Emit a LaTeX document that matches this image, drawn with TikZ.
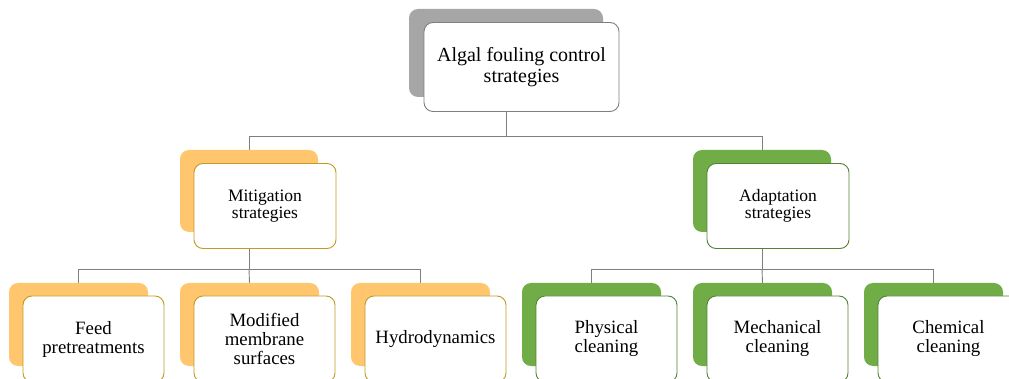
\documentclass[tikz,border=0pt]{standalone}
\usepackage{fontspec}
\setmainfont{Liberation Serif}
\pgfdeclarelayer{bg}
\pgfsetlayers{bg,main}
\definecolor{gback}{HTML}{A6A6A6}
\definecolor{gline}{HTML}{7F7F7F}
\definecolor{oback}{HTML}{FFC66E}
\definecolor{oline}{HTML}{C39A22}
\definecolor{vback}{HTML}{70AD47}
\definecolor{vline}{HTML}{548235}
\definecolor{conn}{HTML}{7F7F7F}
\tikzset{
  backbox/.style={rounded corners=9pt, inner sep=0pt, draw=none},
  frontbox/.style={rounded corners=9pt, inner sep=0pt, fill=white, line width=0.9pt, align=center, text=black},
  topback/.style={backbox, fill=gback, minimum width=194pt, minimum height=88pt},
  topfront/.style={frontbox, draw=gline, minimum width=195pt, minimum height=89pt, font=\fontsize{20}{20.5}\selectfont},
  midback/.style={backbox, minimum width=138pt, minimum height=82pt},
  midfront/.style={frontbox, minimum width=142pt, minimum height=85pt, font=\fontsize{17.5}{17.5}\selectfont},
  lowback/.style={backbox, minimum width=139pt, minimum height=83pt},
  lowfront/.style={frontbox, minimum width=141pt, minimum height=86pt, font=\fontsize{18.8}{19}\selectfont},
  orange/.style={fill=oback},
  ofront/.style={draw=oline},
  green/.style={fill=vback},
  vfront/.style={draw=vline},
  connector/.style={draw=conn, line width=0.9pt}
}
\begin{document}
\begin{tikzpicture}[x=1pt,y=-1pt]
\useasboundingbox (0,0) rectangle (1009,379);
\clip (0,0) rectangle (1009,379);
% top
\node[topback] (b0) at (506,53) {};
\node[topfront] (f0) at (521.5,67) {Algal fouling control\\strategies};
% middle
\node[midback,orange] (bm) at (249,191) {};
\node[midfront,ofront] (fm) at (265,206) {Mitigation\\strategies};
\node[midback,green] (ba) at (762,191) {};
\node[midfront,vfront] (fa) at (778,206) {Adaptation\\strategies};
% bottom
\node[lowback,orange] (b1) at (78.5,324.5) {};
\node[lowfront,ofront] (f1) at (93.5,339) {Feed\\pretreatments};
\node[lowback,orange] (b2) at (249.5,324.5) {};
\node[lowfront,ofront] (f2) at (264.5,339) {Modified\\membrane\\surfaces};
\node[lowback,orange] (b3) at (420.5,324.5) {};
\node[lowfront,ofront] (f3) at (435.5,339) {Hydrodynamics};
\node[lowback,green] (b4) at (591.5,324.5) {};
\node[lowfront,vfront] (f4) at (606.5,339) {Physical\\cleaning};
\node[lowback,green] (b5) at (762.5,324.5) {};
\node[lowfront,vfront] (f5) at (777.5,339) {Mechanical\\cleaning};
\node[lowback,green] (b6) at (933.5,324.5) {};
\node[lowfront,vfront] (f6) at (948.5,339) {Chemical\\cleaning};
\coordinate (j0) at (506,136);
\coordinate (j1) at (249,269);
\coordinate (j2) at (762,269);
\begin{pgfonlayer}{bg}
\draw[connector] (f0.south -| b0) -- (b0 |- j0) -| (bm.north);
\draw[connector] (b0 |- j0) -| (ba.north);
\draw[connector] (fm.south -| bm) -- (bm |- j1) -| (b1.north);
\draw[connector] (bm |- j1) -- (b2.north);
\draw[connector] (bm |- j1) -| (b3.north);
\draw[connector] (fa.south -| ba) -- (ba |- j2) -| (b4.north);
\draw[connector] (ba |- j2) -- (b5.north);
\draw[connector] (ba |- j2) -| (b6.north);
\end{pgfonlayer}
\end{tikzpicture}
\end{document}
